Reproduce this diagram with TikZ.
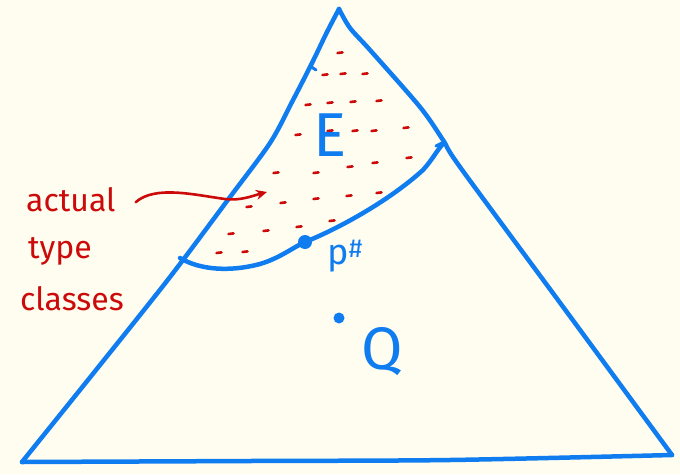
\documentclass[tikz,border=0pt]{standalone}
\usepackage{fontspec}
\setmainfont{Fira Sans}
\usetikzlibrary{arrows.meta}
\definecolor{bg}{HTML}{FEFDF0}
\definecolor{pen}{HTML}{0F7CF0}
\definecolor{ink}{HTML}{CC0A0A}
\begin{document}
\begin{tikzpicture}[x=1pt,y=-1pt,
  blueline/.style={draw=pen,line width=4.5pt,line cap=round,line join=round},
  redtext/.style={text=ink,font=\fontsize{32}{34}\selectfont,anchor=base west,inner sep=0pt},
  bluetext/.style={text=pen,inner sep=0pt},
  reddash/.style={draw=ink,line width=2.6pt,line cap=round},
  blob/.style={circle,fill=pen,inner sep=0pt}]
\fill[bg] (0,0) rectangle (680,474);
\useasboundingbox (0,0) rectangle (680,474);
% triangle
\draw[blueline] plot[smooth,tension=0.5] coordinates {(22,462) (100,365) (170,277) (230,197) (270,143) (292,102) (312,63) (327,32) (339,9)};
\draw[blueline] plot[smooth,tension=0.5] coordinates {(339,9) (350,28) (370,50) (420,107) (443,140) (460,167) (558,300) (672,455)};
\draw[blueline] plot[smooth,tension=0.5] coordinates {(672,455) (450,460) (250,461) (22,462)};
% small tick on left side
\draw[blueline,line width=3pt] (310,66) -- (316,70);
% E boundary curve
\node[blob,minimum size=14pt] (p) at (305,242) {};
\draw[blueline] (180,258) .. controls (200,270) and (230,272) .. (260,264)
  .. controls (280,258) and (292,248) .. (p.center)
  .. controls (340,228) and (390,200) .. (423,170)
  .. controls (432,160) and (436,152) .. (442,145);
\draw[blueline,line width=3pt] (436,146) -- (444,142);
% red dashes
\foreach \x/\y in {340/53,325/75,343/74,365/74,308/105,330/103,353/102,379/101,
  298/135,330/131,355/131,374/131,406/128,276/173,316/173,350/167,375/163,409/158,
  249/207,283/203,316/199,349/196,379/193,231/234,266/231,299/227,332/221,219/253,245/252}
  \draw[reddash] (\x-2.5,\y) -- (\x+2.5,\y-0.6);
% labels
\node[bluetext,font=\fontsize{62}{62}\selectfont] (E) at (330,135) {E};
\node[bluetext,font=\fontsize{60}{60}\selectfont] (Q) at (382,352) {Q};
\node[bluetext,font=\fontsize{36}{36}\selectfont] (ps) at (345,256) {p\raisebox{0.4ex}{\fontsize{26}{26}\selectfont\#}};
\node[blob,minimum size=11pt] (q) at (339,318) {};
\node[redtext] (l1) at (26,211) {actual};
\node[redtext] (l2) at (28,258) {type};
\node[redtext] (l3) at (20,310) {classes};
\coordinate (tip) at (267,192);
\draw[draw=ink,line width=2.6pt,line cap=round,-{Stealth[length=11pt,width=10pt]}]
  ([xshift=20pt,yshift=-3pt]l1.east) .. controls (155,185) and (195,195) .. (225,199)
  .. controls (240,201) and (252,196) .. (tip);
\end{tikzpicture}
\end{document}
